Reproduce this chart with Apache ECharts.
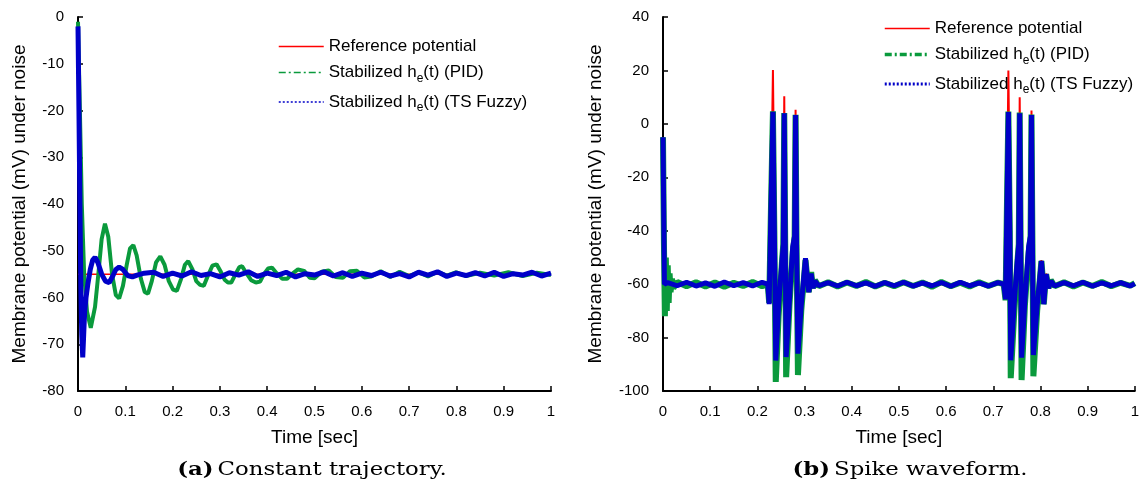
<!DOCTYPE html>
<html>
<head>
<meta charset="utf-8">
<script src="https://cdn.jsdelivr.net/npm/echarts@6/dist/echarts.min.js"></script>
<style>
  html, body { margin: 0; padding: 0; background: #fff; }
  #chart { width: 1142px; height: 491px; }
</style>
</head>
<body>
<div id="chart"></div>
<script>
// Nombres de las series
const nombres = ['Reference potential', 'Stabilized he(t) (PID)', 'Stabilized he(t) (TS Fuzzy)'];

// (a) Trayectoria constante
const refConst = [[0, -55], [1, -55]];
const pidConst = [
  [0, -1], [0.004, -20], [0.008, -40], [0.013, -55], [0.019, -63], [0.027, -66.5], [0.036, -62],
  [0.043, -55], [0.05, -47.5], [0.057, -44.2], [0.064, -47], [0.072, -55], [0.08, -59.5], [0.087, -60.2],
  [0.095, -57.5], [0.103, -53], [0.11, -49.5], [0.117, -48.8], [0.124, -51], [0.133, -56], [0.141, -58.8],
  [0.148, -59.2], [0.156, -56.5], [0.165, -52.5], [0.174, -51.2], [0.183, -53], [0.192, -56.5], [0.201, -58.3],
  [0.209, -58.6], [0.218, -56], [0.226, -53], [0.233, -52.2], [0.242, -54], [0.25, -56.5], [0.258, -57.3],
  [0.266, -57.5], [0.274, -55.5], [0.284, -53.2], [0.293, -52.9], [0.302, -54.5], [0.31, -56.2], [0.317, -56.8],
  [0.324, -56.8], [0.333, -55], [0.341, -53.5], [0.347, -53.3], [0.356, -54.8], [0.366, -56.3], [0.376, -56.8],
  [0.385, -56.6], [0.393, -55], [0.402, -53.8], [0.41, -53.6], [0.42, -54.8], [0.432, -56], [0.442, -56],
  [0.452, -55], [0.465, -54], [0.478, -54.3], [0.49, -55.8], [0.5, -55.9], [0.515, -54.5], [0.53, -54.2],
  [0.545, -55.6], [0.56, -55.8], [0.575, -54.4], [0.59, -54.3], [0.605, -55.7], [0.62, -55.5], [0.64, -54.4],
  [0.66, -55.6], [0.68, -54.5], [0.7, -55.4], [0.72, -54.6], [0.74, -55.5], [0.76, -54.5], [0.78, -55.3],
  [0.8, -54.6], [0.82, -55.4], [0.85, -54.7], [0.88, -55.3], [0.91, -54.6], [0.94, -55.4], [0.97, -54.7], [1, -55.2]
];
const fuzzyConst = [
  [0, -2], [0.002, -20], [0.004, -40], [0.006, -58], [0.008, -68], [0.01, -72.8], [0.012, -68], [0.014, -63],
  [0.017, -60], [0.021, -57], [0.026, -54], [0.031, -52], [0.036, -51.4], [0.042, -52.5], [0.05, -55],
  [0.058, -56.5], [0.066, -56.8], [0.073, -55.5], [0.08, -54], [0.087, -53.5], [0.095, -54], [0.105, -55.3],
  [0.115, -55.6], [0.125, -55.2], [0.14, -54.8], [0.16, -54.6], [0.18, -55.5], [0.2, -54.8], [0.22, -55.4],
  [0.24, -54.5], [0.26, -55.3], [0.28, -54.9], [0.3, -55.6], [0.32, -54.7], [0.34, -55.2], [0.36, -54.5],
  [0.38, -55.5], [0.4, -54.8], [0.42, -55.3], [0.44, -54.6], [0.46, -55.6], [0.48, -54.9], [0.5, -55.2],
  [0.52, -54.5], [0.54, -55.4], [0.56, -54.7], [0.58, -55.5], [0.6, -54.8], [0.62, -55.3], [0.64, -54.6],
  [0.66, -55.4], [0.68, -54.9], [0.7, -55.6], [0.72, -54.6], [0.74, -55.2], [0.76, -54.5], [0.78, -55.5],
  [0.8, -54.8], [0.82, -55.3], [0.84, -54.7], [0.86, -55.4], [0.88, -54.6], [0.9, -55.5], [0.92, -54.9],
  [0.94, -55.2], [0.96, -54.6], [0.98, -55.4], [1, -54.8]
];

// (b) Forma de onda con picos
const refSpike = [
  [0, -60], [0.222, -60], [0.225, -66], [0.229, -30], [0.233, 20.2], [0.236, -30], [0.239, -88],
  [0.245, -68], [0.252, -52], [0.255, -45], [0.257, 10.3], [0.259, -40], [0.261, -87], [0.268, -66],
  [0.275, -48], [0.279, -42], [0.281, 5.3], [0.283, -40], [0.286, -86], [0.293, -68], [0.302, -51],
  [0.306, -58], [0.309, -63], [0.314, -56], [0.318, -61], [0.322, -59], [0.326, -60],
  [0.722, -60], [0.726, -65.6], [0.729, -30], [0.732, 20], [0.735, -30], [0.737, -88],
  [0.744, -68], [0.751, -52], [0.754, -45], [0.756, 10], [0.758, -40], [0.76, -87], [0.767, -66],
  [0.775, -48], [0.779, -42], [0.781, 5], [0.783, -40], [0.785, -86], [0.793, -68], [0.802, -51],
  [0.805, -58], [0.807, -67], [0.812, -56], [0.817, -61], [0.822, -59], [0.826, -60], [1, -60]
];
const pidSpike = [
  [0, -5], [0.002, -45], [0.004, -72], [0.006, -50], [0.008, -70], [0.01, -53], [0.012, -67], [0.014, -56],
  [0.016, -63], [0.019, -58], [0.022, -61.5], [0.03, -59.2], [0.05, -60.8], [0.07, -59.3], [0.09, -60.9],
  [0.11, -59.4], [0.13, -61], [0.15, -59.5], [0.17, -60.7], [0.19, -59.2], [0.21, -60.8], [0.222, -60],
  [0.225, -67], [0.229, -30], [0.233, 4.7], [0.236, -40], [0.239, -96.6], [0.245, -72], [0.252, -52],
  [0.255, -45], [0.257, 4.1], [0.259, -45], [0.261, -94.8], [0.268, -68], [0.275, -48], [0.279, -42],
  [0.281, 3.4], [0.283, -45], [0.286, -94], [0.293, -70], [0.302, -51], [0.306, -58], [0.309, -63],
  [0.314, -55.5], [0.318, -61.5], [0.322, -58.5], [0.33, -60.8], [0.35, -59.3], [0.37, -60.9], [0.39, -59.4],
  [0.41, -60.7], [0.43, -59.2], [0.45, -60.9], [0.47, -59.5], [0.49, -60.8], [0.51, -59.3], [0.53, -60.7],
  [0.55, -59.4], [0.57, -61], [0.59, -59.2], [0.61, -60.8], [0.63, -59.5], [0.65, -60.9], [0.67, -59.3],
  [0.69, -60.7], [0.71, -59.4], [0.722, -60], [0.726, -66], [0.729, -30], [0.732, 4.6], [0.735, -40],
  [0.737, -95.2], [0.744, -72], [0.751, -52], [0.754, -45], [0.756, 4.2], [0.758, -45], [0.76, -95.9],
  [0.767, -68], [0.775, -48], [0.779, -42], [0.781, 3.5], [0.783, -45], [0.785, -94.5], [0.793, -70],
  [0.802, -51.3], [0.805, -58], [0.807, -67.5], [0.812, -56.3], [0.817, -61.5], [0.822, -58.5], [0.83, -60.8],
  [0.85, -59.3], [0.87, -60.9], [0.89, -59.4], [0.91, -60.7], [0.93, -59.2], [0.95, -60.8], [0.97, -59.5],
  [0.99, -60.6], [1, -59.6]
];
const fuzzySpike = [
  [0, -5], [0.003, -60], [0.01, -59.4], [0.03, -60.6], [0.05, -59.3], [0.07, -60.7], [0.09, -59.5],
  [0.11, -60.8], [0.13, -59.2], [0.15, -60.6], [0.17, -59.4], [0.19, -60.7], [0.21, -59.3], [0.222, -60],
  [0.225, -67.5], [0.229, -30], [0.233, 4.5], [0.236, -40], [0.239, -88.6], [0.245, -68], [0.2525, -50.7],
  [0.255, -45], [0.257, 4], [0.259, -45], [0.261, -87.3], [0.268, -66], [0.275, -46], [0.279, -42],
  [0.281, 3.3], [0.283, -45], [0.286, -86], [0.293, -68], [0.302, -50.3], [0.306, -58], [0.309, -63],
  [0.314, -56], [0.318, -61.5], [0.322, -58.8], [0.33, -60.6], [0.35, -59.4], [0.37, -60.7], [0.39, -59.3],
  [0.41, -60.6], [0.43, -59.5], [0.45, -60.8], [0.47, -59.4], [0.49, -60.6], [0.51, -59.3], [0.53, -60.7],
  [0.55, -59.5], [0.57, -60.6], [0.59, -59.4], [0.61, -60.8], [0.63, -59.3], [0.65, -60.6], [0.67, -59.5],
  [0.69, -60.7], [0.71, -59.4], [0.722, -60], [0.726, -65.6], [0.729, -30], [0.732, 4.4], [0.735, -40],
  [0.737, -88.5], [0.744, -68], [0.751, -51], [0.754, -45], [0.756, 4], [0.758, -45], [0.76, -87.5],
  [0.767, -66], [0.775, -46], [0.779, -42], [0.781, 3.3], [0.783, -45], [0.785, -86.5], [0.793, -68],
  [0.802, -51.3], [0.805, -58], [0.807, -67.5], [0.812, -56.3], [0.817, -61.5], [0.822, -58.8], [0.83, -60.7],
  [0.85, -59.4], [0.87, -60.6], [0.89, -59.3], [0.91, -60.7], [0.93, -59.5], [0.95, -60.6], [0.97, -59.4],
  [0.99, -60.7], [1, -59.8]
];

const rojo = '#ff0000';
const verde = '#0a9a3c';
const azul = '#0000c8';
const fuente = 'Liberation Sans';

const grafico = echarts.init(document.getElementById('chart'));

function ejeX(idx) {
  return {
    type: 'value', gridIndex: idx, min: 0, max: 1, interval: 0.1,
    name: 'Time [sec]', nameLocation: 'middle', nameGap: 37,
    nameTextStyle: { fontSize: 19, fontFamily: fuente, color: '#000' },
    axisLine: { onZero: false, lineStyle: { color: '#000', width: 2 } },
    axisTick: { inside: true, length: 5, lineStyle: { color: '#000', width: 1.5 } },
    axisLabel: { fontSize: 15, fontFamily: fuente, color: '#000', margin: 13 },
    splitLine: { show: false }
  };
}

function ejeY(idx, min, max, interval, gap) {
  return {
    type: 'value', gridIndex: idx, min: min, max: max, interval: interval,
    name: 'Membrane potential (mV) under noise', nameLocation: 'middle', nameGap: gap,
    nameTextStyle: { fontSize: 19, fontFamily: fuente, color: '#000' },
    axisLine: { onZero: false, lineStyle: { color: '#000', width: 2 } },
    axisTick: { inside: true, length: 5, lineStyle: { color: '#000', width: 1.5 } },
    axisLabel: { fontSize: 15, fontFamily: fuente, color: '#000', margin: 14 },
    splitLine: { show: false }
  };
}

function leyenda(left, top, anchoVerde, anchoAzul, gap) {
  const sinSimbolo = { opacity: 0 };
  return {
    orient: 'vertical', left: left, top: top, itemGap: gap,
    itemWidth: 45, itemHeight: 12,
    formatter: n => n.replace('he(t)', 'h{sub|e}(t)'),
    textStyle: {
      fontSize: 17, fontFamily: fuente, color: '#000',
      rich: { sub: { fontSize: 12, fontFamily: fuente, color: '#000', padding: [12, 0, 0, 0] } }
    },
    data: [
      { name: nombres[0], itemStyle: sinSimbolo, lineStyle: { color: rojo, width: 1.5, type: 'solid' } },
      { name: nombres[1], itemStyle: sinSimbolo, lineStyle: { color: verde, width: anchoVerde, type: [7, 3, 2, 3] } },
      { name: nombres[2], itemStyle: sinSimbolo, lineStyle: { color: azul, width: anchoAzul, type: [2, 2] } }
    ]
  };
}

function serie(nombre, datos, color, ancho, idx) {
  return {
    name: nombre, type: 'line', data: datos, xAxisIndex: idx, yAxisIndex: idx,
    symbol: 'none', animation: false,
    lineStyle: { color: color, width: ancho }, itemStyle: { color: color }
  };
}

function pie(texto, x) {
  return {
    type: 'text', x: x, y: 470, scaleX: 1.2,
    style: {
      text: texto, align: 'center', verticalAlign: 'middle',
      rich: {
        b: { fontFamily: 'DejaVu Serif', fontWeight: 'bold', fontSize: 19, fill: '#000' },
        n: { fontFamily: 'DejaVu Serif', fontSize: 19, fill: '#000' }
      }
    }
  };
}

grafico.setOption({
  animation: false,
  grid: [
    { left: 78, top: 17, width: 473, height: 374 },
    { left: 663, top: 17, width: 473, height: 374 }
  ],
  xAxis: [ejeX(0), ejeX(1)],
  yAxis: [ejeY(0, -80, 0, 10, 49), ejeY(1, -100, 40, 20, 58)],
  legend: [leyenda(273, 33, 1.5, 1.5, 9), leyenda(878, 15, 3.5, 3, 9)],
  series: [
    serie(nombres[0], refConst, rojo, 1.5, 0),
    serie(nombres[1], pidConst, verde, 4, 0),
    serie(nombres[2], fuzzyConst, azul, 5, 0),
    serie(nombres[0], refSpike, rojo, 2, 1),
    serie(nombres[1], pidSpike, verde, 6, 1),
    serie(nombres[2], fuzzySpike, azul, 5, 1)
  ],
  graphic: [
    pie('{b|(a)} {n|Constant trajectory.}', 312),
    pie('{b|(b)} {n|Spike waveform.}', 910)
  ]
});
</script>
</body>
</html>
